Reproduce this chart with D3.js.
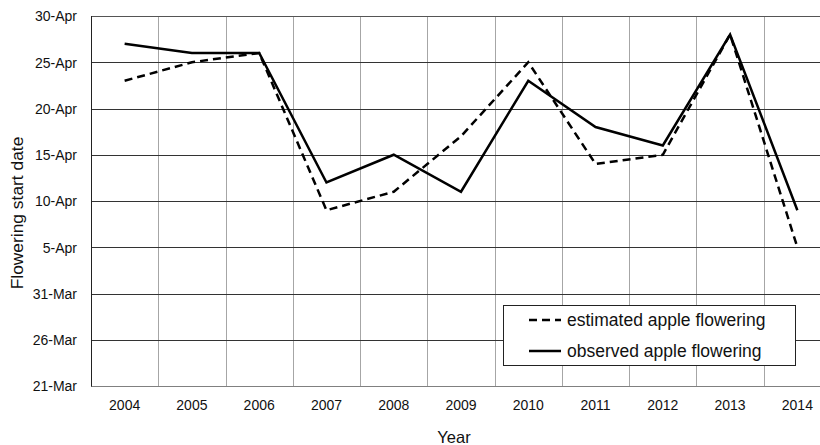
<!DOCTYPE html>
<html><head><meta charset="utf-8">
<script src="https://cdn.jsdelivr.net/npm/d3@7"></script>
<style>body{margin:0;background:#fff}svg{display:block;font-family:"Liberation Sans",Arial,sans-serif}</style>
</head><body><svg id="c" width="820" height="445"></svg>
<script>
const years = ["2004","2005","2006","2007","2008","2009","2010","2011","2012","2013","2014"];
// values = day offset from 31-Mar (April day number)
const estimated = [23,25,26,9,11,17,25,14,15,28,5];
const observed  = [27,26,26,12,15,11,23,18,16,28,9];
const yTickValues = [-10,-5,0,5,10,15,20,25,30];
const yTickLabels = ["21-Mar","26-Mar","31-Mar","5-Apr","10-Apr","15-Apr","20-Apr","25-Apr","30-Apr"];
const seriesNames = ["estimated apple flowering","observed apple flowering"];

const svg = d3.select("#c");
const m = {left:91, top:16};
const W = 740, H = 370;
const g = svg.append("g").attr("transform",`translate(${m.left},${m.top})`);
const x = d3.scaleBand().domain(years).range([0,W]);
const y = d3.scaleLinear().domain([-10,30]).range([H,0]);

// vertical gridlines (category boundaries)
g.append("g").selectAll("line").data(years.slice(1)).join("line")
  .attr("x1",d=>Math.round(x(d))+0.5).attr("x2",d=>Math.round(x(d))+0.5)
  .attr("y1",0).attr("y2",H).attr("stroke","#a6a6a6").attr("stroke-width",1);
// horizontal gridlines
g.append("g").selectAll("line").data(yTickValues).join("line")
  .attr("x1",0).attr("x2",W)
  .attr("y1",d=>Math.round(y(d))+0.5).attr("y2",d=>Math.round(y(d))+0.5)
  .attr("stroke",d=>d===-10?"#808080":(d===30?"#555":"#333")).attr("stroke-width",1);
// left axis line
g.append("line").attr("x1",0.5).attr("x2",0.5).attr("y1",0).attr("y2",H+0.5).attr("stroke","#222");

// y tick labels
const yAxis = d3.axisLeft(y).tickValues(yTickValues).tickFormat((d,i)=>yTickLabels[i]).tickSize(0).tickPadding(14);
const ya = g.append("g").call(yAxis);
ya.select(".domain").remove();
ya.selectAll("text").attr("font-size","14px").attr("fill","#111").attr("font-family","'Liberation Sans',Arial,sans-serif").attr("dy","0.35em");

// x tick labels
const xAxis = d3.axisBottom(x).tickSize(0).tickPadding(14);
const xa = g.append("g").attr("transform",`translate(0,${H})`).call(xAxis);
xa.select(".domain").remove();
xa.selectAll("text").attr("font-size","14px").attr("fill","#111").attr("font-family","'Liberation Sans',Arial,sans-serif");

const line = d3.line().x((d,i)=>x(years[i])+x.bandwidth()/2).y(d=>y(d));
g.append("path").datum(estimated).attr("d",line).attr("fill","none")
  .attr("stroke","#000").attr("stroke-width",2.5).attr("stroke-dasharray","8,5");
g.append("path").datum(observed).attr("d",line).attr("fill","none")
  .attr("stroke","#000").attr("stroke-width",2.5);

// axis titles
svg.append("text").attr("x",454).attr("y",443).attr("text-anchor","middle")
  .attr("font-size","16.5px").attr("fill","#111").text("Year");
svg.append("text").attr("transform","translate(23,213) rotate(-90)").attr("text-anchor","middle")
  .attr("font-size","17.4px").attr("fill","#111").text("Flowering start date");

// legend
const lg = svg.append("g");
lg.append("rect").attr("x",503.5).attr("y",305.5).attr("width",292).attr("height",60)
  .attr("fill","#fff").attr("stroke","#222").attr("stroke-width",1);
const dashes = ["8,5",null];
seriesNames.forEach((n,i)=>{
  const yy = 320 + i*31;
  lg.append("line").attr("x1",529).attr("x2",561).attr("y1",yy).attr("y2",yy)
    .attr("stroke","#000").attr("stroke-width",2.5).attr("stroke-dasharray",dashes[i]);
  lg.append("text").attr("x",567).attr("y",yy).attr("dy","0.35em")
    .attr("font-size","17.5px").attr("fill","#111").text(n);
});
</script></body></html>
